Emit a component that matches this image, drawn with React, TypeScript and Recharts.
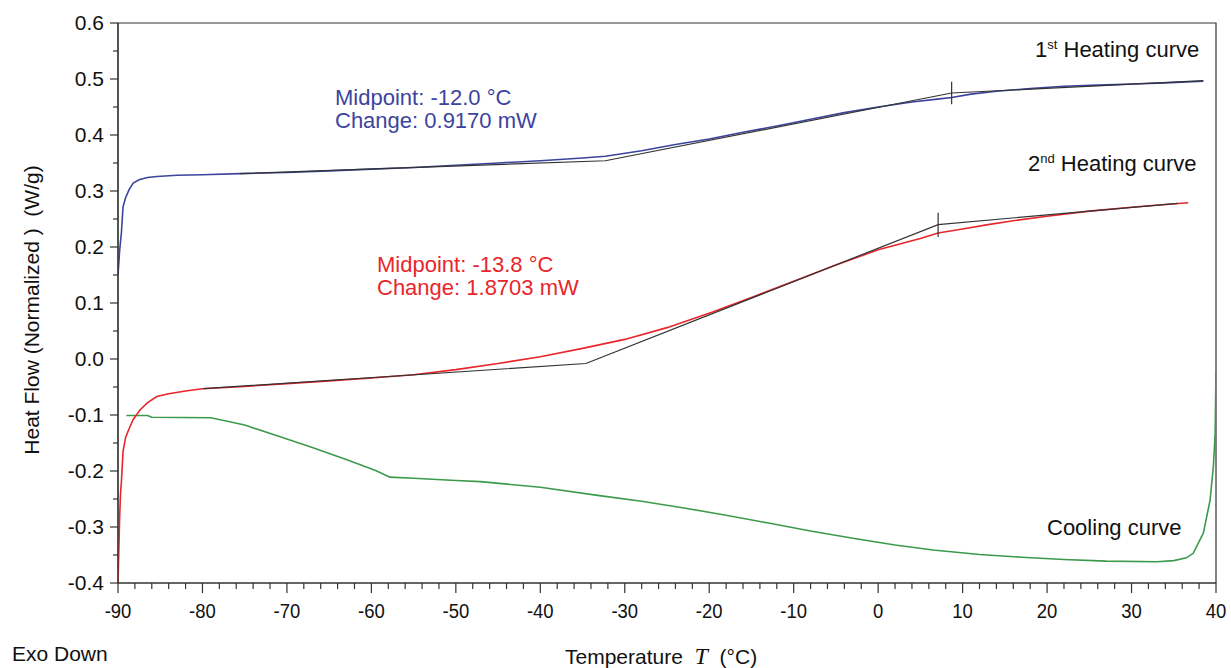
import React from "react";
import { LineChart, Line, XAxis, YAxis, ReferenceArea } from "recharts";

// 1st heating (blue)
const heat1T = [-90, -89.8, -89.6, -89.4, -89.1, -88.7, -88.2, -87.5, -86.5, -85.4, -83, -80, -75.6, -70, -65, -60, -55, -50, -45, -40, -35, -32.3, -28, -24, -20, -16, -12, -8, -4, 0, 4, 7, 8.7, 11, 14, 18, 22, 26, 30, 34, 38.5];
const heat1V = [0.150, 0.195, 0.225, 0.272, 0.288, 0.302, 0.314, 0.320, 0.324, 0.326, 0.328, 0.329, 0.331, 0.333, 0.336, 0.339, 0.342, 0.346, 0.350, 0.354, 0.359, 0.362, 0.372, 0.383, 0.393, 0.405, 0.416, 0.428, 0.440, 0.450, 0.459, 0.464, 0.467, 0.473, 0.478, 0.483, 0.487, 0.489, 0.491, 0.493, 0.496];
const heat1BaseT = [-75.6, -32.3, 8.7, 38.5];
const heat1BaseV = [0.331, 0.354, 0.475, 0.497];
const heat1MarkT = [8.7, 8.7];
const heat1MarkV = [0.455, 0.495];

// 2nd heating (red)
const heat2T = [-90, -89.9, -89.8, -89.7, -89.6, -89.4, -89.1, -88.7, -88.2, -87.4, -86.5, -85.4, -84, -82, -80, -75, -70, -65, -60, -55, -50, -45, -40, -35, -30, -25, -19.6, -15, -10, -5, 0, 3, 5, 7.1, 10, 13, 16, 20, 25, 30, 34, 36.7];
const heat2V = [-0.400, -0.340, -0.280, -0.240, -0.220, -0.165, -0.140, -0.125, -0.108, -0.091, -0.078, -0.067, -0.062, -0.057, -0.053, -0.049, -0.044, -0.039, -0.034, -0.028, -0.019, -0.008, 0.004, 0.019, 0.035, 0.056, 0.084, 0.110, 0.139, 0.168, 0.195, 0.207, 0.215, 0.225, 0.232, 0.240, 0.247, 0.255, 0.264, 0.271, 0.276, 0.279];
const heat2BaseT = [-79.9, -34.6, 7.1, 35.5];
const heat2BaseV = [-0.053, -0.008, 0.240, 0.278];
const heat2MarkT = [7.1, 7.1];
const heat2MarkV = [0.218, 0.261];

// cooling (green)
const coolT = [-89, -86.5, -86, -79, -75, -70.8, -67, -62.9, -59.5, -57.8, -55, -50, -47.1, -40, -33, -28, -23, -18, -13, -8, -3, 2, 6.5, 12, 17, 22, 27, 33, 35, 36.5, 37.3, 38.5, 39.3, 39.7, 39.9, 40];
const coolV = [-0.101, -0.101, -0.104, -0.105, -0.118, -0.139, -0.158, -0.180, -0.199, -0.211, -0.213, -0.217, -0.219, -0.229, -0.244, -0.254, -0.266, -0.279, -0.293, -0.307, -0.320, -0.332, -0.341, -0.349, -0.354, -0.358, -0.361, -0.362, -0.360, -0.355, -0.347, -0.311, -0.252, -0.19, -0.132, -0.02];

const xTicks = Array.from({ length: 66 }, (_, i) => -90 + i * 2);
const yTicks = Array.from({ length: 21 }, (_, i) => Math.round((-0.4 + i * 0.05) * 100) / 100);

const zip = (t: number[], v: number[]) => t.map((x, i) => ({ t: x, v: v[i] }));

const FONT = "'Liberation Sans', Arial, sans-serif";

const XTick = (props: any) => {
  const { x, y, payload } = props;
  const major = Math.round(payload.value) % 10 === 0;
  return (
    <g>
      <line x1={x} x2={x} y1={y} y2={y + (major ? 10 : 6)} stroke="#333" strokeWidth={1.2} />
      {major && (
        <text x={x} y={y + 35} textAnchor="middle" fontSize={21} fontFamily={FONT} fill="#111"
          transform={`translate(${x} 0) scale(0.88 1) translate(${-x} 0)`}>
          {payload.value}
        </text>
      )}
    </g>
  );
};

const YTick = (props: any) => {
  const { x, y, payload } = props;
  const major = Math.round(payload.value * 100) % 10 === 0;
  return (
    <g>
      <line x1={x - (major ? 8 : 5)} x2={x} y1={y} y2={y} stroke="#333" strokeWidth={1.2} />
      {major && (
        <text x={x - 14} y={y + 7} textAnchor="end" fontSize={21} fontFamily={FONT} fill="#111">
          {payload.value.toFixed(1)}
        </text>
      )}
    </g>
  );
};

const txt = (left: number, top: number, color: string, extra: React.CSSProperties = {}): React.CSSProperties => ({
  position: "absolute", left, top, color, fontFamily: FONT, fontSize: 22, lineHeight: "23px", whiteSpace: "pre", ...extra,
});

export default function App() {
  return (
    <div style={{ position: "absolute", left: 0, top: 0, width: 1231, height: 668, background: "#fff" }}>
      <LineChart width={1231} height={668} margin={{ top: 23, right: 15, left: 0, bottom: 0 }}>
        <XAxis dataKey="t" type="number" domain={[-90, 40]} ticks={xTicks} interval={0} allowDataOverflow
          height={85} tickSize={0} tickMargin={0} tickLine={false} tick={<XTick />} axisLine={{ stroke: "#333", strokeWidth: 1.2 }} />
        <YAxis type="number" domain={[-0.4, 0.6]} ticks={yTicks} interval={0} allowDataOverflow
          width={118} tickSize={0} tickMargin={0} tickLine={false} tick={<YTick />} axisLine={{ stroke: "#333", strokeWidth: 1.2 }} />
        <ReferenceArea x1={-90} x2={40} y1={-0.4} y2={0.6} fill="none" stroke="#333" strokeWidth={1.2} ifOverflow="visible" />
        <Line data={zip(coolT, coolV)} dataKey="v" stroke="#3c9a4c" strokeWidth={1.6} dot={false} isAnimationActive={false} />
        <Line data={zip(heat2T, heat2V)} dataKey="v" stroke="#e8262b" strokeWidth={1.6} dot={false} isAnimationActive={false} />
        <Line data={zip(heat1T, heat1V)} dataKey="v" stroke="#3c449e" strokeWidth={1.6} dot={false} isAnimationActive={false} />
        <Line data={zip(heat1BaseT, heat1BaseV)} dataKey="v" stroke="#333" strokeWidth={1.2} dot={false} isAnimationActive={false} />
        <Line data={zip(heat1MarkT, heat1MarkV)} dataKey="v" stroke="#333" strokeWidth={1.2} dot={false} isAnimationActive={false} />
        <Line data={zip(heat2BaseT, heat2BaseV)} dataKey="v" stroke="#333" strokeWidth={1.2} dot={false} isAnimationActive={false} />
        <Line data={zip(heat2MarkT, heat2MarkV)} dataKey="v" stroke="#333" strokeWidth={1.2} dot={false} isAnimationActive={false} />
      </LineChart>

      <div style={txt(335, 86, "#3c449e")}>{"Midpoint: -12.0 °C\nChange: 0.9170 mW"}</div>
      <div style={txt(377, 253, "#e8262b")}>{"Midpoint: -13.8 °C\nChange: 1.8703 mW"}</div>
      <div style={txt(1035, 33, "#111")}>1<sup style={{ fontSize: 13 }}>st</sup> Heating curve</div>
      <div style={txt(1028, 147, "#111")}>2<sup style={{ fontSize: 13 }}>nd</sup> Heating curve</div>
      <div style={txt(1047, 516, "#111")}>Cooling curve</div>

      <div style={{ position: "absolute", left: 32, top: 310, transform: "translate(-50%, -50%) rotate(-90deg)", fontFamily: FONT, fontSize: 21, color: "#111", whiteSpace: "pre" }}>
        {"Heat Flow (Normalized )  (W/g)"}
      </div>
      <div style={{ position: "absolute", left: 12, top: 642, fontFamily: FONT, fontSize: 21, color: "#111" }}>Exo Down</div>
      <div style={{ position: "absolute", left: 565, top: 643, fontFamily: FONT, fontSize: 21, color: "#111", whiteSpace: "pre" }}>
        {"Temperature  "}
        <span style={{ fontFamily: "'Liberation Serif', serif", fontStyle: "italic", fontSize: 24 }}>T</span>
        {"  (°C)"}
      </div>
    </div>
  );
}
